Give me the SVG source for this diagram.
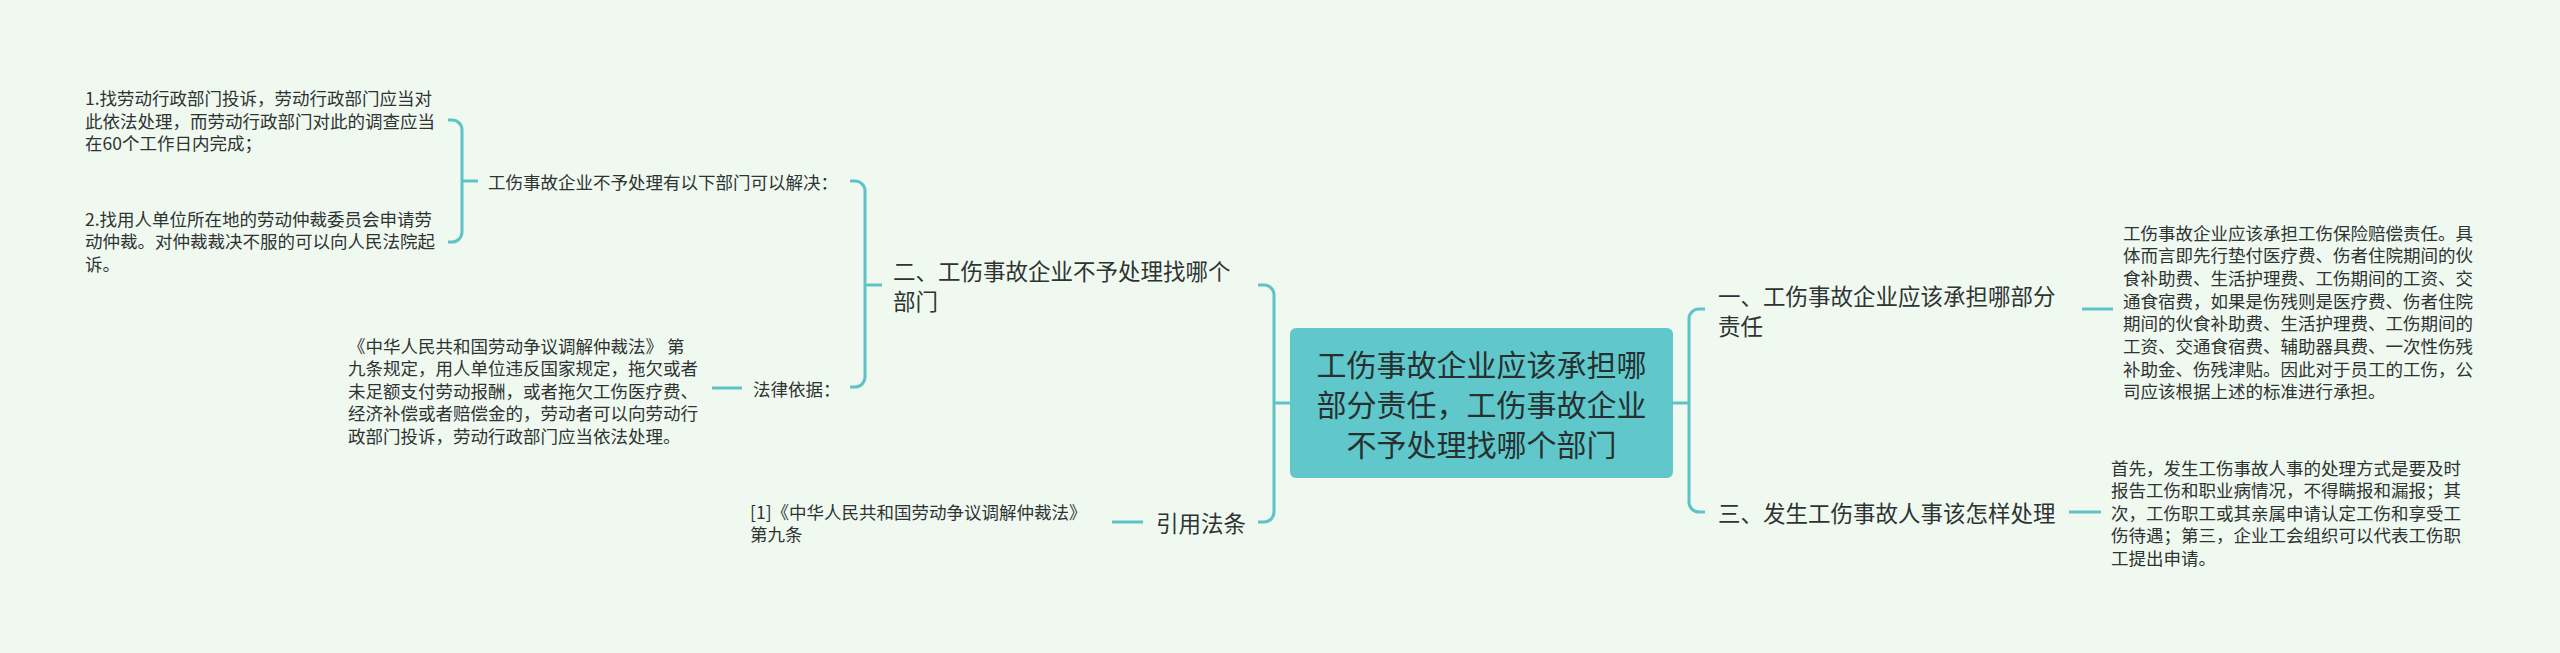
<svg xmlns="http://www.w3.org/2000/svg" width="2560" height="653" viewBox="0 0 2560 653">
<style>
text{font-family:"Noto Sans CJK SC","Noto Sans",sans-serif;fill:#2e3333;dominant-baseline:central}
.root{font-size:30px;text-anchor:middle;fill:#263030}
.l1{font-size:22.5px}
.leaf{font-size:17.5px}
.conn path{fill:none;stroke:#5ec3c7;stroke-width:3;stroke-linecap:butt}
</style>
<rect x="0" y="0" width="2560" height="653" fill="#f0f9f0"/>
<g class="conn" id="connectors">
<path d="M1258,285 H1264 A10,10 0 0 1 1274,295 V512 A10,10 0 0 1 1264,522 H1258"/>
<path d="M1274,403 H1290"/>
<path d="M1705,309 H1699 A10,10 0 0 0 1689,319 V502 A10,10 0 0 0 1699,512 H1705"/>
<path d="M1673,403 H1689"/>
<path d="M850,181 H855 A10,10 0 0 1 865,191 V377 A10,10 0 0 1 855,387 H850"/>
<path d="M865,285 H882"/>
<path d="M448,120 H452 A10,10 0 0 1 462,130 V232 A10,10 0 0 1 452,242 H448"/>
<path d="M462,181 H478"/>
<path d="M712,388 H742"/>
<path d="M1112,522 H1143"/>
<path d="M2082,309 H2113"/>
<path d="M2069,512 H2101"/>
</g>
<g id="root">
<rect x="1290" y="328" width="383" height="150" rx="6" fill="#60c8cb"/>
<text class="root" x="1481.5" y="363">工伤事故企业应该承担哪</text>
<text class="root" x="1481.5" y="403">部分责任，工伤事故企业</text>
<text class="root" x="1481.5" y="443">不予处理找哪个部门</text>
</g>
<g id="n2">
<text class="l1" x="893" y="270">二、工伤事故企业不予处理找哪个</text>
<text class="l1" x="893" y="300">部门</text>
</g>
<g id="n-cite">
<text class="l1" x="1156" y="522">引用法条</text>
</g>
<g id="n1">
<text class="l1" x="1718" y="295">一、工伤事故企业应该承担哪部分</text>
<text class="l1" x="1718" y="325">责任</text>
</g>
<g id="n3">
<text class="l1" x="1718" y="512">三、发生工伤事故人事该怎样处理</text>
</g>
<g id="n1-detail">
<text class="leaf" x="2123" y="232">工伤事故企业应该承担工伤保险赔偿责任。具</text>
<text class="leaf" x="2123" y="254.7">体而言即先行垫付医疗费、伤者住院期间的伙</text>
<text class="leaf" x="2123" y="277.4">食补助费、生活护理费、工伤期间的工资、交</text>
<text class="leaf" x="2123" y="300.1">通食宿费，如果是伤残则是医疗费、伤者住院</text>
<text class="leaf" x="2123" y="322.8">期间的伙食补助费、生活护理费、工伤期间的</text>
<text class="leaf" x="2123" y="345.5">工资、交通食宿费、辅助器具费、一次性伤残</text>
<text class="leaf" x="2123" y="368.2">补助金、伤残津贴。因此对于员工的工伤，公</text>
<text class="leaf" x="2123" y="390.9">司应该根据上述的标准进行承担。</text>
</g>
<g id="n3-detail">
<text class="leaf" x="2111" y="467">首先，发生工伤事故人事的处理方式是要及时</text>
<text class="leaf" x="2111" y="489.5">报告工伤和职业病情况，不得瞒报和漏报；其</text>
<text class="leaf" x="2111" y="512">次，工伤职工或其亲属申请认定工伤和享受工</text>
<text class="leaf" x="2111" y="534.5">伤待遇；第三，企业工会组织可以代表工伤职</text>
<text class="leaf" x="2111" y="557">工提出申请。</text>
</g>
<g id="n2-a">
<text class="leaf" x="488" y="181">工伤事故企业不予处理有以下部门可以解决：</text>
</g>
<g id="n2-a-1">
<text class="leaf" x="85" y="97.5">1.找劳动行政部门投诉，劳动行政部门应当对</text>
<text class="leaf" x="85" y="120">此依法处理，而劳动行政部门对此的调查应当</text>
<text class="leaf" x="85" y="142.5">在60个工作日内完成；</text>
</g>
<g id="n2-a-2">
<text class="leaf" x="85" y="218">2.找用人单位所在地的劳动仲裁委员会申请劳</text>
<text class="leaf" x="85" y="240.5">动仲裁。对仲裁裁决不服的可以向人民法院起</text>
<text class="leaf" x="85" y="263">诉。</text>
</g>
<g id="n2-b">
<text class="leaf" x="753" y="388">法律依据：</text>
</g>
<g id="n2-b-1">
<text class="leaf" x="348" y="345">《中华人民共和国劳动争议调解仲裁法》 第</text>
<text class="leaf" x="348" y="367.5">九条规定，用人单位违反国家规定，拖欠或者</text>
<text class="leaf" x="348" y="390">未足额支付劳动报酬，或者拖欠工伤医疗费、</text>
<text class="leaf" x="348" y="412.5">经济补偿或者赔偿金的，劳动者可以向劳动行</text>
<text class="leaf" x="348" y="435">政部门投诉，劳动行政部门应当依法处理。</text>
</g>
<g id="n-cite-1">
<text class="leaf" x="750" y="511">[1]《中华人民共和国劳动争议调解仲裁法》</text>
<text class="leaf" x="750" y="533.5">第九条</text>
</g>
</svg>
